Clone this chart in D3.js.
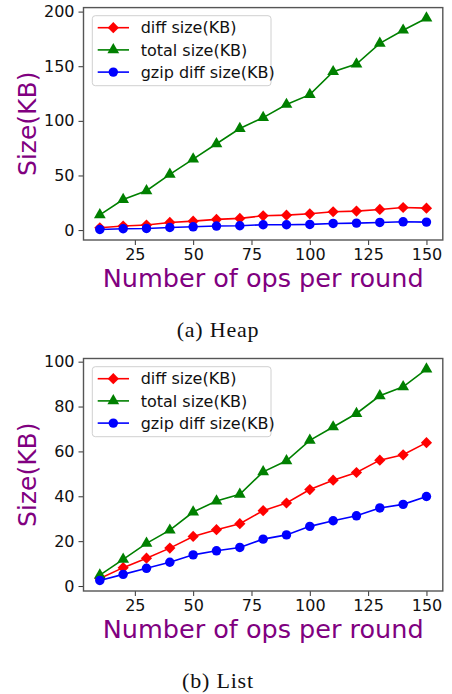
<!DOCTYPE html>
<html>
<head>
<meta charset="utf-8">
<script src="https://cdn.jsdelivr.net/npm/d3@7"></script>
<style>
  body { margin: 0; background: #fff; }
  svg { display: block; }
</style>
</head>
<body>
<script>
// data
const ops = [10, 20, 30, 40, 50, 60, 70, 80, 90, 100, 110, 120, 130, 140, 150];

const heapDiff  = [2.1, 3.7, 4.6, 7.0, 8.2, 9.8, 10.7, 13.1, 13.7, 14.9, 16.8, 17.4, 18.9, 20.7, 20.1];
const heapTotal = [14, 28, 36, 51, 65, 79, 93, 103, 115, 124, 145, 152, 171, 183, 194];
const heapGzip  = [0.6, 1.2, 1.5, 2.4, 3.0, 3.7, 4.0, 4.9, 4.9, 5.2, 6.1, 6.4, 7.0, 7.6, 7.3];

const listDiff  = [3.4, 8.2, 12.4, 16.9, 22.1, 25.1, 27.8, 33.6, 37.0, 43.0, 47.2, 50.6, 56.1, 58.5, 63.9];
const listTotal = [4.9, 11.9, 19.0, 24.9, 33.0, 37.9, 40.9, 50.9, 55.8, 64.9, 70.9, 76.9, 84.8, 88.8, 96.7];
const listGzip  = [2.5, 5.2, 7.9, 10.6, 13.9, 15.7, 17.2, 20.9, 22.8, 26.6, 29.1, 31.3, 34.8, 36.4, 39.9];

const seriesNames = ["diff size(KB)", "total size(KB)", "gzip diff size(KB)"];
const xTicks = [25, 50, 75, 100, 125, 150];
const heapYTicks = [0, 50, 100, 150, 200];
const listYTicks = [0, 20, 40, 60, 80, 100];

const colors = ["#ff0000", "#008000", "#0000ff"];
const shapes = [d3.symbolDiamond2, d3.symbolTriangle, d3.symbolCircle];
const shapeSizes = [80, 60, 70];

const W = 452, H = 694;
const svg = d3.select("body").append("svg")
  .attr("width", W).attr("height", H);

function drawPanel(opts) {
  const g = svg.append("g");
  const left = 83.5, right = 442.8;
  const all = opts.series.flat();
  const lo = d3.min(all), hi = d3.max(all);
  const pad = (hi - lo) * 0.05;
  const x = d3.scaleLinear().domain([3, 157]).range([left, right]);
  const y = d3.scaleLinear().domain([lo - pad, hi + pad]).range([opts.bottom, opts.top]);

  const clipId = "clip" + opts.id;
  g.append("clipPath").attr("id", clipId)
    .append("rect").attr("x", left).attr("y", opts.top)
    .attr("width", right - left).attr("height", opts.bottom - opts.top);

  const plot = g.append("g").attr("clip-path", `url(#${clipId})`);
  const line = d3.line().x((d, i) => x(ops[i])).y(d => y(d));

  // draw in matplotlib order: diff, total, gzip
  opts.series.forEach((vals, k) => {
    plot.append("path")
      .attr("d", line(vals))
      .attr("fill", "none")
      .attr("stroke", colors[k])
      .attr("stroke-width", 1.6);
    plot.selectAll(null)
      .data(vals)
      .enter()
      .append("path")
      .attr("d", d3.symbol().type(shapes[k]).size(shapeSizes[k]))
      .attr("transform", (d, i) => `translate(${x(ops[i])},${y(d)})`)
      .attr("fill", colors[k]);
  });

  // axes
  const xAxis = g.append("g")
    .attr("transform", `translate(0,${opts.bottom})`)
    .call(d3.axisBottom(x).tickValues(xTicks).tickSize(5).tickPadding(4));
  const yAxis = g.append("g")
    .attr("transform", `translate(${left},0)`)
    .call(d3.axisLeft(y).tickValues(opts.yTicks).tickSize(5).tickPadding(4));
  [xAxis, yAxis].forEach(a => {
    a.select(".domain").remove();
    a.selectAll("line").attr("stroke", "#333").attr("stroke-width", 1);
    a.selectAll("text")
      .attr("font-family", "DejaVu Sans")
      .attr("font-size", 16)
      .attr("fill", "#111");
  });

  // frame
  g.append("rect")
    .attr("x", left).attr("y", opts.top)
    .attr("width", right - left).attr("height", opts.bottom - opts.top)
    .attr("fill", "none").attr("stroke", "#555").attr("stroke-width", 1.4);

  // axis titles
  g.append("text")
    .attr("x", (left + right) / 2).attr("y", opts.bottom + 47)
    .attr("text-anchor", "middle")
    .attr("font-family", "DejaVu Sans").attr("font-size", 25.5)
    .attr("fill", "#800080")
    .text("Number of ops per round");
  g.append("text")
    .attr("transform", `translate(36,${(opts.top + opts.bottom) / 2}) rotate(-90)`)
    .attr("text-anchor", "middle")
    .attr("font-family", "DejaVu Sans").attr("font-size", 25)
    .attr("fill", "#800080")
    .text("Size(KB)");

  // legend
  const lg = g.append("g").attr("transform", `translate(92.3,${opts.legendTop})`);
  lg.append("rect")
    .attr("width", 178.7).attr("height", 70)
    .attr("rx", 3)
    .attr("fill", "#fff").attr("fill-opacity", 0.8)
    .attr("stroke", "#d0d0d0").attr("stroke-width", 1);
  seriesNames.forEach((name, k) => {
    const cy = 12 + k * 22.2;
    lg.append("line")
      .attr("x1", 5.4).attr("x2", 36.7).attr("y1", cy).attr("y2", cy)
      .attr("stroke", colors[k]).attr("stroke-width", 1.6);
    lg.append("path")
      .attr("d", d3.symbol().type(shapes[k]).size(shapeSizes[k]))
      .attr("transform", `translate(21,${cy})`)
      .attr("fill", colors[k]);
    lg.append("text")
      .attr("x", 48.4).attr("y", cy).attr("dy", "0.36em")
      .attr("font-family", "DejaVu Sans").attr("font-size", 16)
      .attr("fill", "#111")
      .text(name);
  });

  // caption
  svg.append("text")
    .attr("x", 218).attr("y", opts.captionY)
    .attr("text-anchor", "middle")
    .attr("font-family", "Liberation Serif").attr("font-size", 22)
    .attr("letter-spacing", 0.8)
    .attr("fill", "#111")
    .text(opts.caption);
}

drawPanel({
  id: "a", top: 7.6, bottom: 240,
  series: [heapDiff, heapTotal, heapGzip],
  yTicks: heapYTicks, legendTop: 15.7,
  caption: "(a) Heap", captionY: 337
});

drawPanel({
  id: "b", top: 358.5, bottom: 591,
  series: [listDiff, listTotal, listGzip],
  yTicks: listYTicks, legendTop: 366.7,
  caption: "(b) List", captionY: 688
});
</script>
</body>
</html>
